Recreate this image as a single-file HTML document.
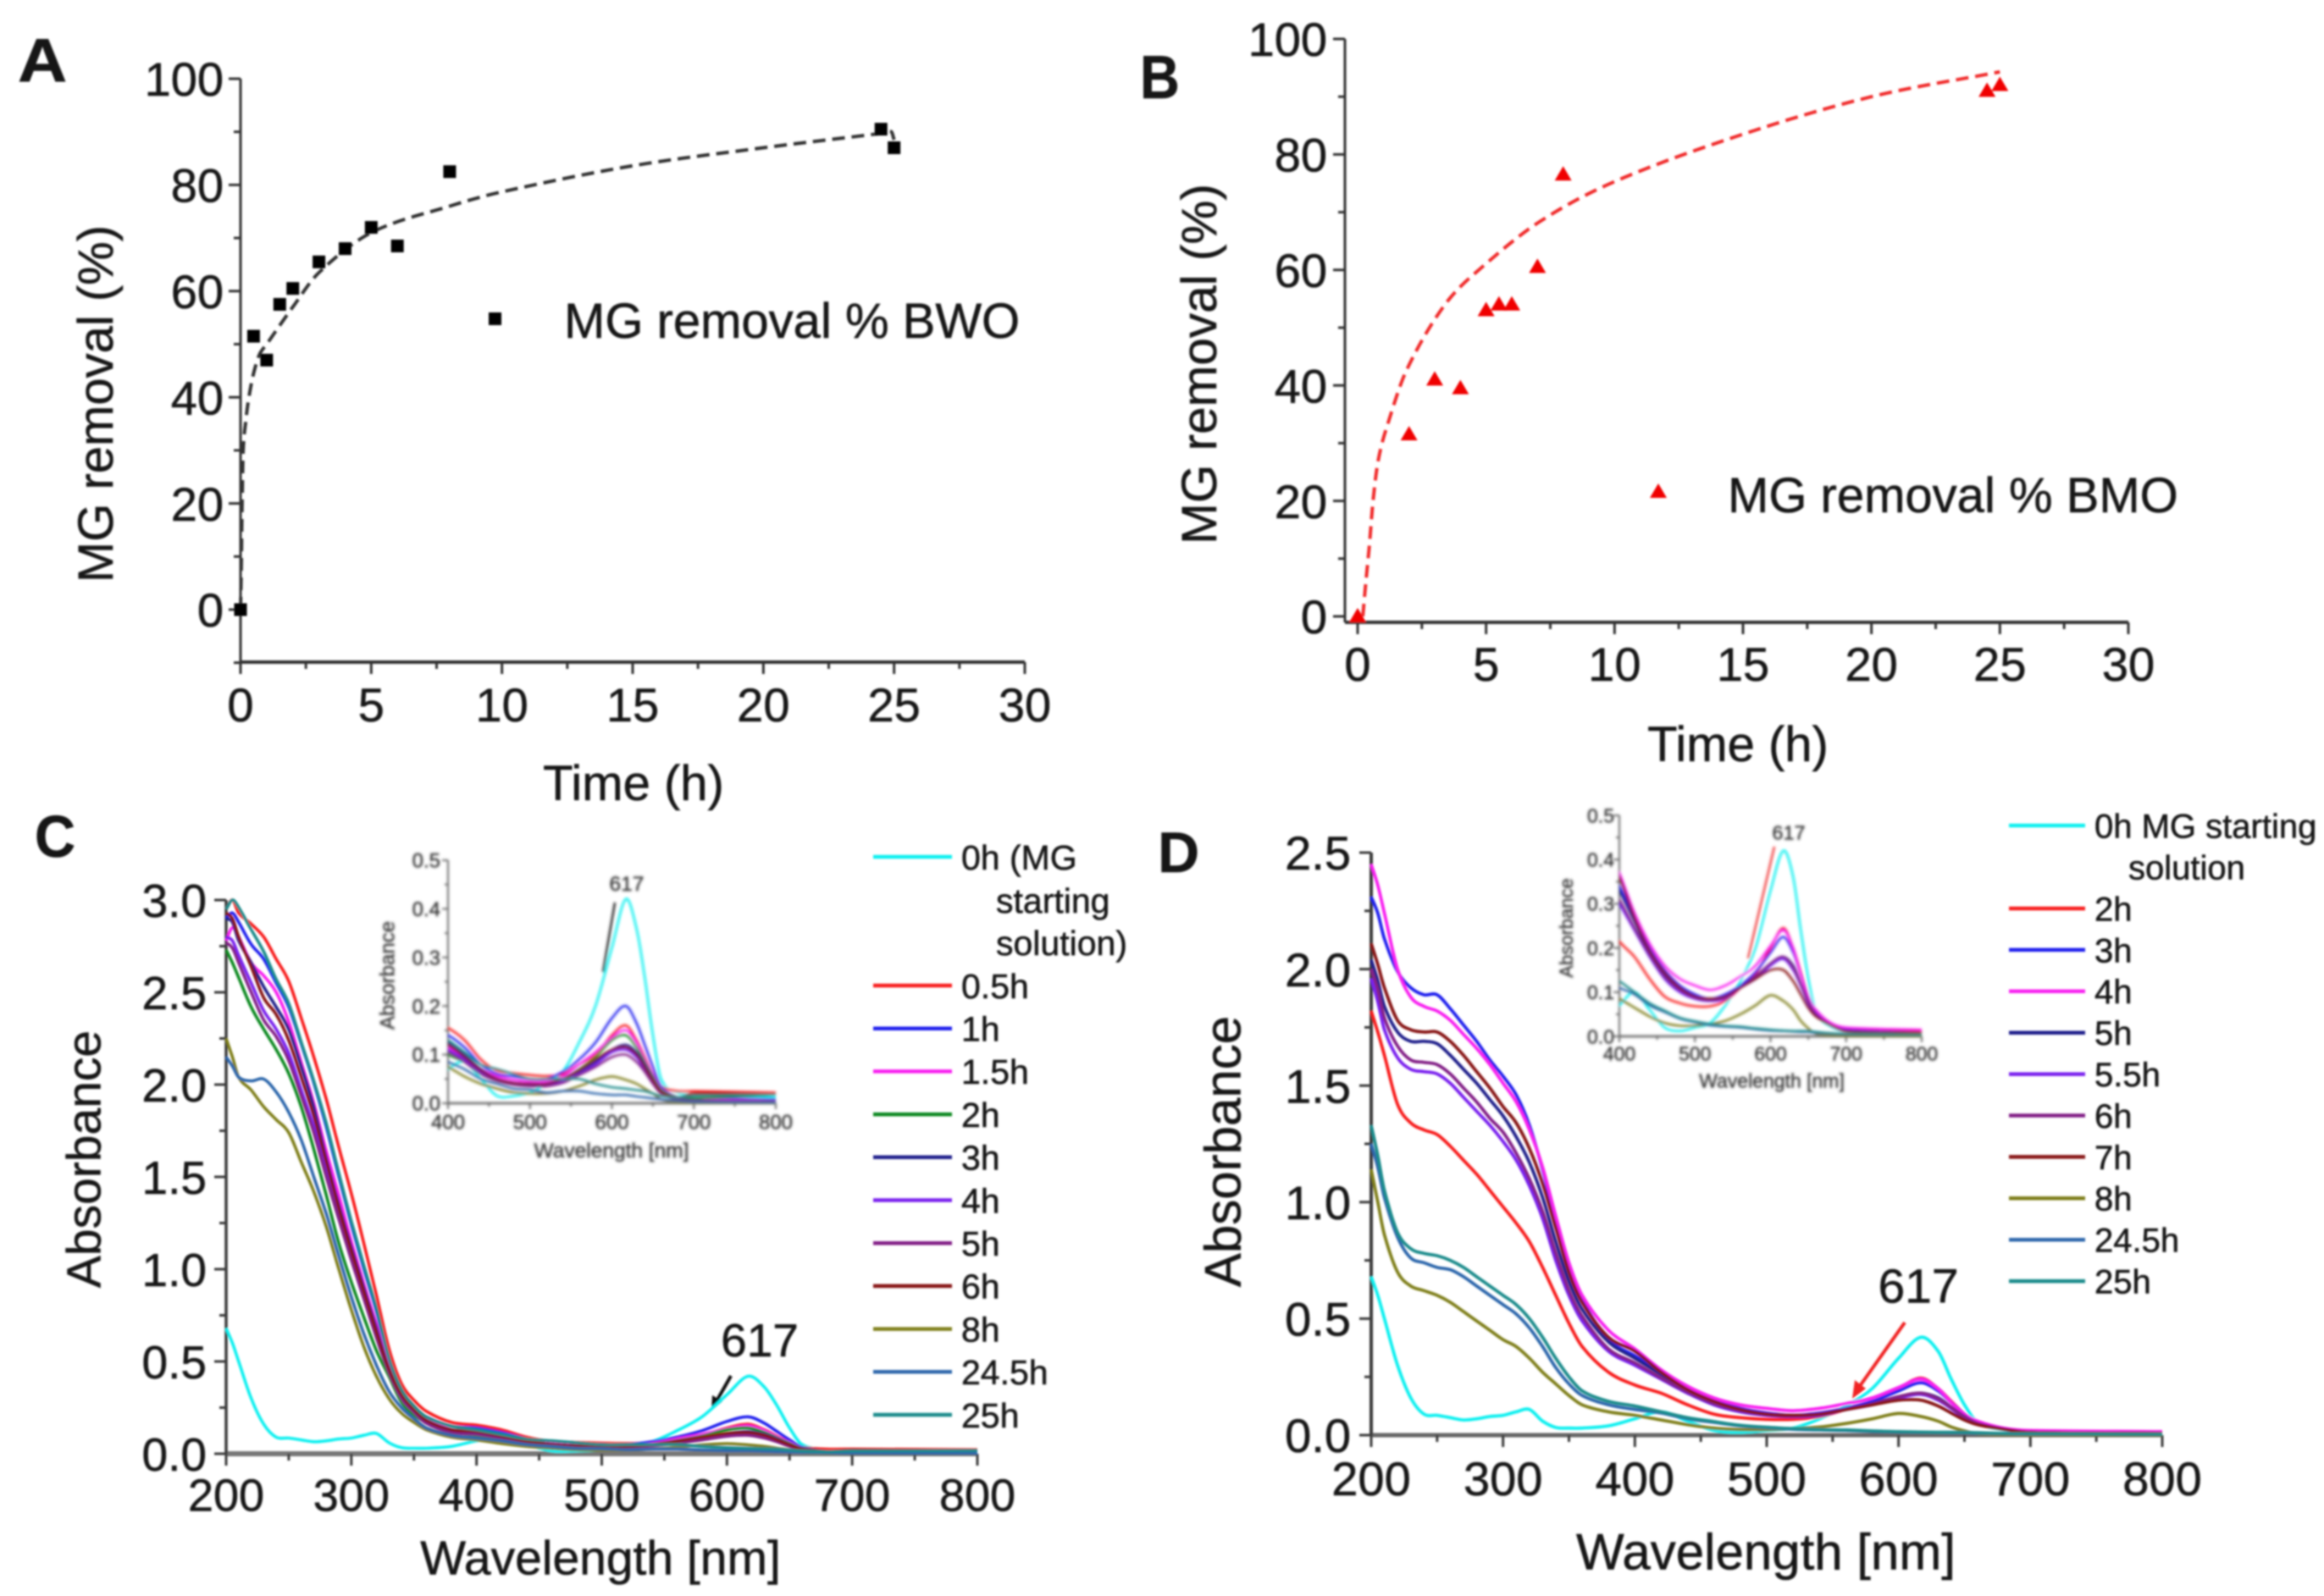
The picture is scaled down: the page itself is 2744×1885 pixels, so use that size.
<!DOCTYPE html>
<html lang="en">
<head>
<meta charset="utf-8">
<title>MG removal and absorbance panels</title>
<style>
html,body{margin:0;padding:0;background:#fff;}
svg{display:block;}
text{font-family:"Liberation Sans",sans-serif;fill:#161616;stroke:#161616;stroke-width:.5px;}
.inset text{fill:#333;stroke:#333;stroke-width:.4px;}
</style>
</head>
<body>
<svg id="figure" xmlns="http://www.w3.org/2000/svg" width="2744" height="1885" viewBox="0 0 2744 1885">
<defs>
<filter id="soft" x="-5%" y="-5%" width="110%" height="110%"><feGaussianBlur stdDeviation="1.1"/></filter>
<filter id="softer" x="-5%" y="-5%" width="110%" height="110%"><feGaussianBlur stdDeviation="1.3"/></filter>
<clipPath id="clip-inset-c"><rect x="529" y="1016" width="388" height="290"/></clipPath>
<clipPath id="clip-inset-d"><rect x="1912" y="963" width="358" height="263"/></clipPath>
</defs>
<rect width="2744" height="1885" fill="#fff"/>
<g id="root" filter="url(#soft)">

<g id="panel-a">
<text transform="translate(21,96) scale(1.12,1)" font-size="72" font-weight="700">A</text>
<text transform="translate(112,477) rotate(-90)" font-size="58" text-anchor="middle" dy=".36em">MG removal (%)</text>
<text x="748" y="924" font-size="58" text-anchor="middle" dy=".36em">Time (h)</text>
<rect x="577" y="369" width="15" height="15" fill="#000"/>
<text x="666" y="378" font-size="58" dy=".36em">MG removal % BWO</text>
</g>

<g id="panel-b">
<text transform="translate(1346,116) scale(.9,1)" font-size="72" font-weight="700">B</text>
<text transform="translate(1415,430) rotate(-90)" font-size="58.5" text-anchor="middle" dy=".36em">MG removal (%)</text>
<text x="2052" y="878" font-size="58" text-anchor="middle" dy=".36em">Time (h)</text>
<polygon points="1958,571 1968,588 1948,588" fill="#f00000"/>
<text x="2040" y="584" font-size="58" dy=".36em">MG removal % BMO</text>
</g>

<g id="panel-c">
<text transform="translate(41,1012) scale(.95,1)" font-size="70" font-weight="700">C</text>
<text transform="translate(98,1369) rotate(-90)" font-size="57" text-anchor="middle" dy=".36em">Absorbance</text>
<text x="709" y="1839" font-size="57" text-anchor="middle" dy=".36em">Wavelength [nm]</text>
<text x="897" y="1582" font-size="55" text-anchor="middle" dy=".36em">617</text>
<line x1="863" y1="1625" x2="846" y2="1655" stroke="#111" stroke-width="4"/>
<polygon points="840,1666 841,1648 853,1655" fill="#111"/>
<text x="1135" y="1012" font-size="41" dy=".36em">0h (MG</text>
<text x="1176" y="1063" font-size="41" dy=".36em">starting</text>
<text x="1176" y="1113" font-size="41" dy=".36em">solution)</text>
<line x1="1031" y1="1012" x2="1124" y2="1012" stroke="#10f0f0" stroke-width="4.5"/>
</g>

<g id="panel-d">
<text transform="translate(1367,1030) scale(1,1)" font-size="68" font-weight="700">D</text>
<text transform="translate(1443,1360) rotate(-90)" font-size="60" text-anchor="middle" dy=".36em">Absorbance</text>
<text x="2085" y="1832" font-size="60" text-anchor="middle" dy=".36em">Wavelength [nm]</text>
<text x="2265" y="1518" font-size="57" text-anchor="middle" dy=".36em">617</text>
<line x1="2249" y1="1562" x2="2196" y2="1637" stroke="#f02020" stroke-width="4"/>
<polygon points="2187,1652 2190,1630 2203,1640" fill="#f02020"/>
<text x="2473" y="975" font-size="40" dy=".36em">0h MG starting</text>
<text x="2513" y="1024" font-size="40" dy=".36em">solution</text>
<line x1="2372" y1="975" x2="2462" y2="975" stroke="#10f0f0" stroke-width="4.5"/>
</g>

<g id="inset-c" class="inset" filter="url(#softer)">
<text transform="translate(457,1152) rotate(-90)" font-size="24" text-anchor="middle" dy=".36em">Absorbance</text>
<text x="722" y="1358" font-size="24.5" text-anchor="middle" dy=".36em">Wavelength [nm]</text>
<text x="740" y="1043" font-size="24.5" text-anchor="middle" dy=".36em">617</text>
<line x1="726" y1="1066" x2="712" y2="1148" stroke="#222" stroke-width="2.5"/>
</g>

<g id="inset-d" class="inset" filter="url(#softer)">
<text transform="translate(1849,1096) rotate(-90)" font-size="22" text-anchor="middle" dy=".36em">Absorbance</text>
<text x="2092" y="1276" font-size="23" text-anchor="middle" dy=".36em">Wavelength [nm]</text>
<text x="2112" y="983" font-size="23.5" text-anchor="middle" dy=".36em">617</text>
<line x1="2095" y1="1000" x2="2064" y2="1132" stroke="#f04040" stroke-width="2.5"/>
</g>
</g>
</svg>

<script>
// ---------- Panel A data ----------
const aTimes = [0, 0.5, 1, 1.5, 2, 3, 4, 5, 6, 8, 24.5, 25];
const aRemoval = [0, 51.5, 47, 57.5, 60.5, 65.5, 68, 72, 68.5, 82.5, 90.5, 87];
const aFitTimes = [0, 0.03, 0.05, 0.07, 0.1, 0.2, 0.32, 0.5, 0.72, 1, 2, 3, 5, 8, 10, 15, 20, 24.5, 24.9, 25];
const aFitValues = [0, 8, 16, 23, 30, 35.5, 40, 44.5, 48, 50, 57, 63.5, 71, 76, 78.7, 83.6, 87, 89.7, 90, 88.5];
const aXTicks = [0, 5, 10, 15, 20, 25, 30];
const aXMinor = [2.5, 7.5, 12.5, 17.5, 22.5, 27.5];
const aYTicks = [0, 20, 40, 60, 80, 100];
const aYMinor = [-10, 10, 30, 50, 70, 90];

// ---------- Panel B data ----------
const bTimes = [0, 2, 3, 4, 5, 5.5, 6, 7, 8, 24.5, 25];
const bRemoval = [0, 31.5, 41, 39.5, 53, 54, 54, 60.5, 76.5, 91, 92];
const bFitTimes = [0.2, 0.3, 0.45, 0.6, 0.8, 1.15, 1.9, 3.4, 4.9, 7.1, 10, 15, 20, 25];
const bFitValues = [0, 5, 12, 20, 27, 33, 42.6, 54, 60.7, 68.4, 75.3, 83.5, 90, 94.3];
const bXTicks = [0, 5, 10, 15, 20, 25, 30];
const bXMinor = [2.5, 7.5, 12.5, 17.5, 22.5, 27.5];
const bYTicks = [0, 20, 40, 60, 80, 100];
const bYMinor = [10, 30, 50, 70, 90];

// ---------- Shared spectra data ----------
const wavelengths = [200,205,210,220,230,240,250,260,270,280,290,300,310,320,330,340,350,360,380,400,420,440,460,480,500,520,540,560,580,600,617,630,640,650,660,680,700,800];
const specXTicks = [200, 300, 400, 500, 600, 700, 800];
const specXMinor = [250, 350, 450, 550, 650, 750];
const insetXTicks = [400, 500, 600, 700, 800];
const insetXMinor = [450, 550, 650, 750];
const insetYTicks = [0, 0.1, 0.2, 0.3, 0.4, 0.5];
const insetYMinor = [0.05, 0.15, 0.25, 0.35, 0.45];

// ---------- Panel C spectra ----------
const c0h = [.68,.6,.5,.3,.16,.09,.085,.075,.065,.07,.08,.085,.1,.11,.06,.033,.03,.03,.04,.07,.085,.05,.015,.015,.022,.04,.065,.125,.2,.32,.42,.36,.26,.14,.05,.022,.018,.012];
const c05h = [2.95,3,2.93,2.87,2.8,2.68,2.56,2.36,2.15,1.92,1.66,1.41,1.14,.86,.57,.38,.29,.23,.17,.155,.13,.09,.067,.062,.058,.056,.06,.08,.1,.14,.16,.13,.095,.06,.035,.025,.025,.022];
const c1h = [2.9,2.93,2.88,2.76,2.68,2.55,2.42,2.22,2.01,1.77,1.5,1.24,1,.77,.5,.34,.25,.2,.15,.14,.115,.08,.06,.055,.05,.05,.065,.09,.125,.175,.2,.165,.12,.075,.035,.012,.01,.008];
const c15h = [2.78,2.85,2.8,2.66,2.59,2.5,2.34,2.12,1.9,1.64,1.4,1.15,.92,.7,.47,.33,.24,.19,.13,.115,.095,.07,.055,.048,.045,.045,.055,.08,.105,.135,.15,.125,.09,.06,.03,.012,.008,.005];
const c2h = [2.73,2.66,2.58,2.42,2.3,2.19,2.06,1.88,1.65,1.4,1.14,.93,.74,.56,.42,.28,.21,.17,.12,.1,.085,.065,.05,.042,.04,.04,.05,.07,.095,.13,.14,.115,.085,.055,.028,.012,.01,.018];
const c3h = [2.9,2.88,2.78,2.66,2.53,2.42,2.3,2.1,1.88,1.6,1.35,1.12,.9,.68,.46,.32,.24,.18,.13,.125,.1,.07,.05,.042,.04,.04,.05,.065,.085,.11,.12,.105,.08,.05,.025,.01,.006,.004];
const c4h = [2.8,2.78,2.7,2.55,2.4,2.3,2.17,1.97,1.77,1.54,1.3,1.07,.86,.65,.45,.31,.23,.17,.12,.11,.09,.065,.048,.04,.037,.037,.045,.06,.08,.105,.11,.095,.07,.045,.022,.008,.005,.004];
const c5h = [2.77,2.74,2.66,2.5,2.35,2.26,2.13,1.94,1.74,1.5,1.27,1.05,.84,.63,.44,.3,.225,.165,.115,.105,.085,.06,.046,.038,.035,.035,.042,.058,.075,.095,.1,.085,.065,.04,.02,.008,.005,.004];
const c6h = [2.93,2.9,2.8,2.64,2.47,2.38,2.24,2.04,1.83,1.58,1.33,1.1,.88,.66,.46,.32,.24,.18,.13,.12,.095,.068,.05,.042,.04,.04,.05,.068,.09,.11,.115,.1,.075,.048,.024,.012,.02,.018];
const c8h = [2.25,2.15,2.04,1.97,1.88,1.81,1.74,1.58,1.42,1.23,1,.78,.58,.42,.3,.22,.17,.13,.09,.075,.055,.04,.03,.022,.02,.02,.025,.035,.048,.055,.048,.04,.03,.02,.008,.002,.001,.001];
const c245h = [2.15,2.1,2.04,2.02,2.03,1.96,1.85,1.7,1.5,1.3,1.07,.85,.65,.48,.34,.25,.19,.14,.1,.085,.07,.05,.04,.03,.028,.022,.025,.025,.02,.017,.017,.014,.012,.01,.008,.005,.003,.002];
const c25h = [2.95,3,2.96,2.84,2.72,2.57,2.44,2.23,2.02,1.79,1.52,1.26,1.02,.79,.52,.35,.26,.2,.15,.13,.105,.08,.07,.06,.05,.05,.05,.05,.04,.033,.03,.027,.025,.02,.015,.012,.015,.018];
const cYTicks = [0, 0.5, 1, 1.5, 2, 2.5, 3];
const cYMinor = [0.25, 0.75, 1.25, 1.75, 2.25, 2.75];
const cLegendNames = ['0.5h','1h','1.5h','2h','3h','4h','5h','6h','8h','24.5h','25h'];

// ---------- Panel D spectra ----------
const d0h = [.68,.6,.5,.3,.16,.09,.085,.075,.065,.07,.08,.085,.1,.11,.06,.033,.03,.03,.04,.07,.1,.06,.02,.012,.02,.03,.07,.125,.2,.33,.42,.36,.24,.13,.055,.022,.012,.006];
const d2h = [1.82,1.73,1.63,1.42,1.34,1.31,1.29,1.24,1.18,1.12,1.05,.98,.91,.83,.72,.6,.48,.38,.27,.215,.18,.13,.09,.075,.068,.068,.08,.11,.14,.2,.245,.2,.145,.09,.055,.025,.015,.012];
const d3h = [2.31,2.24,2.13,1.99,1.92,1.89,1.89,1.83,1.76,1.69,1.61,1.54,1.46,1.33,1.14,.92,.72,.58,.41,.34,.27,.2,.15,.115,.095,.085,.095,.115,.145,.19,.225,.19,.14,.09,.055,.025,.015,.008];
const d4h = [2.45,2.36,2.24,2,1.88,1.84,1.82,1.78,1.72,1.66,1.59,1.51,1.43,1.31,1.15,.94,.74,.6,.45,.37,.28,.21,.16,.13,.115,.105,.115,.135,.16,.205,.24,.2,.14,.09,.06,.03,.02,.015];
const d5h = [2.04,1.95,1.84,1.73,1.69,1.69,1.68,1.63,1.57,1.51,1.44,1.37,1.28,1.17,1.02,.83,.66,.54,.4,.33,.26,.19,.14,.11,.09,.085,.09,.11,.135,.165,.18,.16,.12,.08,.05,.025,.012,.006];
const d55h = [1.96,1.86,1.74,1.62,1.57,1.56,1.55,1.51,1.45,1.39,1.33,1.26,1.18,1.07,.93,.75,.6,.49,.36,.3,.24,.18,.13,.1,.085,.08,.085,.11,.13,.16,.175,.15,.115,.075,.05,.025,.012,.006];
const d6h = [2,1.91,1.79,1.67,1.61,1.6,1.59,1.55,1.49,1.43,1.36,1.3,1.21,1.1,.96,.78,.62,.51,.37,.31,.245,.185,.135,.105,.088,.082,.088,.11,.133,.165,.18,.155,.118,.078,.05,.025,.012,.006];
const d7h = [2.11,2.02,1.92,1.78,1.74,1.73,1.73,1.69,1.63,1.56,1.49,1.41,1.34,1.23,1.08,.89,.7,.57,.42,.36,.27,.195,.145,.11,.09,.085,.09,.11,.13,.15,.15,.125,.095,.065,.045,.025,.012,.008];
const d8h = [1.14,1,.86,.7,.64,.62,.6,.57,.53,.49,.45,.41,.38,.33,.27,.22,.17,.13,.1,.085,.065,.045,.03,.024,.024,.028,.035,.05,.07,.093,.08,.06,.035,.018,.006,.002,.001,.001];
const d245h = [1.25,1.15,1.02,.85,.76,.74,.72,.71,.68,.64,.6,.56,.52,.46,.38,.29,.22,.17,.13,.11,.095,.07,.055,.04,.032,.025,.022,.02,.016,.013,.012,.011,.01,.01,.008,.006,.005,.004];
const d25h = [1.33,1.2,1.05,.87,.8,.78,.77,.75,.72,.68,.64,.6,.56,.5,.42,.33,.25,.19,.145,.125,.1,.075,.058,.042,.034,.028,.024,.022,.018,.015,.013,.012,.012,.012,.01,.007,.006,.004];
const dYTicks = [0, 0.5, 1, 1.5, 2, 2.5];
const dYMinor = [0.25, 0.75, 1.25, 1.75, 2.25];
const dLegendNames = ['2h','3h','4h','5h','5.5h','6h','7h','8h','24.5h','25h'];

// ---------- Series colours ----------
const cColors = ['#10f0f0','#f81c1c','#2424ee','#f820f0','#108a20','#20208c','#7a20ee','#842088','#881818','#80801a','#2e68ac','#1c8c8c'];
const dColors = ['#10f0f0','#f81c1c','#2424ee','#f820f0','#20208c','#7a20ee','#842088','#881818','#80801a','#2e68ac','#1c8c8c'];

const NS = 'http://www.w3.org/2000/svg';
function make(tag, parent) {
  const el = document.createElementNS(NS, tag);
  parent.appendChild(el);
  return el;
}
function linear(d0, d1, r0, r1) {
  return function (v) { return r0 + (v - d0) * (r1 - r0) / (d1 - d0); };
}
function smoothPath(xs, ys, sx, sy) {
  const px = xs.map(sx), py = ys.map(sy), n = px.length;
  const slope = [];
  for (let i = 0; i < n; i++) {
    const a = Math.max(0, i - 1), b = Math.min(n - 1, i + 1);
    slope.push((py[b] - py[a]) / (px[b] - px[a]));
  }
  let d = 'M' + px[0].toFixed(1) + ' ' + py[0].toFixed(1);
  for (let i = 0; i < n - 1; i++) {
    const h = (px[i + 1] - px[i]) / 3;
    d += 'C' + (px[i] + h).toFixed(1) + ' ' + (py[i] + slope[i] * h).toFixed(1) + ' ' +
      (px[i + 1] - h).toFixed(1) + ' ' + (py[i + 1] - slope[i + 1] * h).toFixed(1) + ' ' +
      px[i + 1].toFixed(1) + ' ' + py[i + 1].toFixed(1);
  }
  return d;
}
function drawAxes(parent, key, o) {
  const xLine = make('line', parent);
  xLine.setAttribute('x1', o.xStart); xLine.setAttribute('x2', o.xEnd);
  xLine.setAttribute('y1', o.axisY); xLine.setAttribute('y2', o.axisY);
  xLine.setAttribute('stroke', o.xColor); xLine.setAttribute('stroke-width', o.xWidth);
  
  
  const yLine = make('line', parent);
  yLine.setAttribute('x1', o.axisX); yLine.setAttribute('x2', o.axisX);
  yLine.setAttribute('y1', o.yTop); yLine.setAttribute('y2', o.axisY);
  yLine.setAttribute('stroke', o.color); yLine.setAttribute('stroke-width', o.width);
  
  
  function xTick(v, len, label) {
    const t = make('line', parent);
    t.setAttribute('x1', o.sx(v)); t.setAttribute('x2', o.sx(v));
    t.setAttribute('y1', o.axisY); t.setAttribute('y2', o.axisY + len);
    t.setAttribute('stroke', o.color); t.setAttribute('stroke-width', o.tickWidth);
    
    
    if (label) {
      const s = make('text', parent);
      s.setAttribute('x', o.sx(v)); s.setAttribute('y', o.xLabelY);
      s.setAttribute('dy', '.36em'); s.setAttribute('text-anchor', 'middle');
      s.setAttribute('font-size', o.xFont);
      s.textContent = String(v);
      
      
    }
  }
  function yTick(v, len, label) {
    const t = make('line', parent);
    t.setAttribute('x1', o.axisX - len); t.setAttribute('x2', o.axisX);
    t.setAttribute('y1', o.sy(v)); t.setAttribute('y2', o.sy(v));
    t.setAttribute('stroke', o.color); t.setAttribute('stroke-width', o.tickWidth);
    
    
    if (label) {
      const s = make('text', parent);
      s.setAttribute('x', o.yLabelX); s.setAttribute('y', o.sy(v));
      s.setAttribute('dy', '.36em'); s.setAttribute('text-anchor', 'end');
      s.setAttribute('font-size', o.yFont);
      s.textContent = o.yDecimals ? v.toFixed(o.yDecimals) : String(v);
      
      
    }
  }
  o.xTicks.forEach(function (v) { xTick(v, o.major, true); });
  o.xMinor.forEach(function (v) { xTick(v, o.minor, false); });
  o.yTicks.forEach(function (v) { yTick(v, o.major, true); });
  o.yMinor.forEach(function (v) { yTick(v, o.minor, false); });
}
function drawFit(parent, key, xs, ys, sx, sy, color) {
  const p = make('path', parent);
  p.setAttribute('d', smoothPath(xs, ys, sx, sy));
  p.setAttribute('fill', 'none');
  p.setAttribute('stroke', color);
  p.setAttribute('stroke-width', '4');
  p.setAttribute('stroke-dasharray', '15 8');
  
  
}
function drawSeries(parent, key, seriesList, colors, sx, sy, width, clip) {
  const g = make('g', parent);
  
  
  if (clip) g.setAttribute('clip-path', 'url(#' + clip + ')');
  seriesList.forEach(function (vals, i) {
    const p = make('path', g);
    p.setAttribute('d', smoothPath(wavelengths, vals, sx, sy));
    p.setAttribute('fill', 'none');
    p.setAttribute('stroke', colors[i]);
    p.setAttribute('stroke-width', width);
    p.setAttribute('stroke-linejoin', 'round');
    
    
  });
}
function drawLegend(parent, key, names, colors, x1, x2, tx, y0, step, font) {
  names.forEach(function (name, i) {
    const y = y0 + i * step;
    const l = make('line', parent);
    l.setAttribute('x1', x1); l.setAttribute('x2', x2);
    l.setAttribute('y1', y); l.setAttribute('y2', y);
    l.setAttribute('stroke', colors[i + 1]); l.setAttribute('stroke-width', '4.5');
    
    
    const t = make('text', parent);
    t.setAttribute('x', tx); t.setAttribute('y', y);
    t.setAttribute('dy', '.36em'); t.setAttribute('font-size', font);
    t.textContent = name;
    
    
  });
}

// ---------- Panel A ----------
(function () {
  const g = document.getElementById('panel-a');
  const sx = linear(0, 30, 284, 1210), sy = linear(0, 100, 720, 93);
  drawAxes(g, 'a', {sx: sx, sy: sy, xStart: 284, xEnd: 1210, axisX: 284, axisY: 782, yTop: 93, color: '#333', xColor: '#333', width: 3, xWidth: 4, tickWidth: 3, major: 14, minor: 8, xTicks: aXTicks, xMinor: aXMinor, yTicks: aYTicks, yMinor: aYMinor, xLabelY: 832, yLabelX: 264, xFont: 56, yFont: 56});
  drawFit(g, 'a', aFitTimes, aFitValues, sx, sy, '#333');
  aTimes.forEach(function (t, i) {
    const m = make('rect', g);
    m.setAttribute('x', sx(t) - 7.5); m.setAttribute('y', sy(aRemoval[i]) - 7.5);
    m.setAttribute('width', 15); m.setAttribute('height', 15);
    m.setAttribute('fill', '#000');
    
    
  });
})();

// ---------- Panel B ----------
(function () {
  const g = document.getElementById('panel-b');
  const sx = linear(0, 30, 1603, 2513), sy = linear(0, 100, 728, 46);
  drawAxes(g, 'b', {sx: sx, sy: sy, xStart: 1588, xEnd: 2513, axisX: 1588, axisY: 735, yTop: 46, color: '#333', xColor: '#333', width: 3, xWidth: 4, tickWidth: 3, major: 14, minor: 8, xTicks: bXTicks, xMinor: bXMinor, yTicks: bYTicks, yMinor: bYMinor, xLabelY: 784, yLabelX: 1567, xFont: 56, yFont: 56});
  drawFit(g, 'b', bFitTimes, bFitValues, sx, sy, '#f02c2c');
  bTimes.forEach(function (t, i) {
    const m = make('polygon', g);
    const x = sx(t), y = sy(bRemoval[i]);
    m.setAttribute('points', x + ',' + (y - 10) + ' ' + (x + 10) + ',' + (y + 7) + ' ' + (x - 10) + ',' + (y + 7));
    m.setAttribute('fill', '#f00000');
    
    
  });
})();

// ---------- Panel C ----------
const cSeries = [c0h, c05h, c1h, c15h, c2h, c3h, c4h, c5h, c6h, c8h, c245h, c25h];
(function () {
  const g = document.getElementById('panel-c');
  const sx = linear(200, 800, 267, 1154), sy = linear(0, 3, 1717, 1063);
  drawAxes(g, 'c', {sx: sx, sy: sy, xStart: 267, xEnd: 1154, axisX: 267, axisY: 1717, yTop: 1063, color: '#3a3a3a', xColor: '#777', width: 3.5, xWidth: 6, tickWidth: 3, major: 14, minor: 8, xTicks: specXTicks, xMinor: specXMinor, yTicks: cYTicks, yMinor: cYMinor, xLabelY: 1765, yLabelX: 244, xFont: 54, yFont: 55, yDecimals: 1});
  drawSeries(g, 'c', cSeries, cColors, sx, sy, 3.6);
  drawLegend(g, 'c', cLegendNames, cColors, 1031, 1124, 1135, 1164, 50.7, 41);
  const ins = document.getElementById('inset-c');
  const ix = linear(400, 800, 529, 916), iy = linear(0, 0.5, 1303, 1016);
  drawAxes(ins, 'c-inset', {sx: ix, sy: iy, xStart: 529, xEnd: 916, axisX: 529, axisY: 1303, yTop: 1016, color: '#666', xColor: '#777', width: 2, xWidth: 3, tickWidth: 2, major: 7, minor: 4, xTicks: insetXTicks, xMinor: insetXMinor, yTicks: insetYTicks, yMinor: insetYMinor, xLabelY: 1325, yLabelX: 520, xFont: 24, yFont: 24, yDecimals: 1});
  drawSeries(ins, 'c-inset', cSeries, cColors, ix, iy, 2.6, 'clip-inset-c');
})();

// ---------- Panel D ----------
const dSeries = [d0h, d2h, d3h, d4h, d5h, d55h, d6h, d7h, d8h, d245h, d25h];
(function () {
  const g = document.getElementById('panel-d');
  const sx = linear(200, 800, 1619, 2553), sy = linear(0, 2.5, 1695, 1007);
  drawAxes(g, 'd', {sx: sx, sy: sy, xStart: 1619, xEnd: 2553, axisX: 1619, axisY: 1695, yTop: 1007, color: '#3a3a3a', xColor: '#666', width: 4, xWidth: 5, tickWidth: 3, major: 14, minor: 8, xTicks: specXTicks, xMinor: specXMinor, yTicks: dYTicks, yMinor: dYMinor, xLabelY: 1746, yLabelX: 1595, xFont: 56, yFont: 56, yDecimals: 1});
  drawSeries(g, 'd', dSeries, dColors, sx, sy, 3.8);
  drawLegend(g, 'd', dLegendNames, dColors, 2372, 2462, 2473, 1073, 48.9, 40);
  const ins = document.getElementById('inset-d');
  const ix = linear(400, 800, 1912, 2269), iy = linear(0, 0.5, 1224, 963);
  drawAxes(ins, 'd-inset', {sx: ix, sy: iy, xStart: 1912, xEnd: 2269, axisX: 1912, axisY: 1224, yTop: 963, color: '#666', xColor: '#777', width: 2, xWidth: 3, tickWidth: 2, major: 7, minor: 4, xTicks: insetXTicks, xMinor: insetXMinor, yTicks: insetYTicks, yMinor: insetYMinor, xLabelY: 1244, yLabelX: 1906, xFont: 23, yFont: 23, yDecimals: 1});
  drawSeries(ins, 'd-inset', dSeries, dColors, ix, iy, 2.6, 'clip-inset-d');
})();
</script>
</body>
</html>
